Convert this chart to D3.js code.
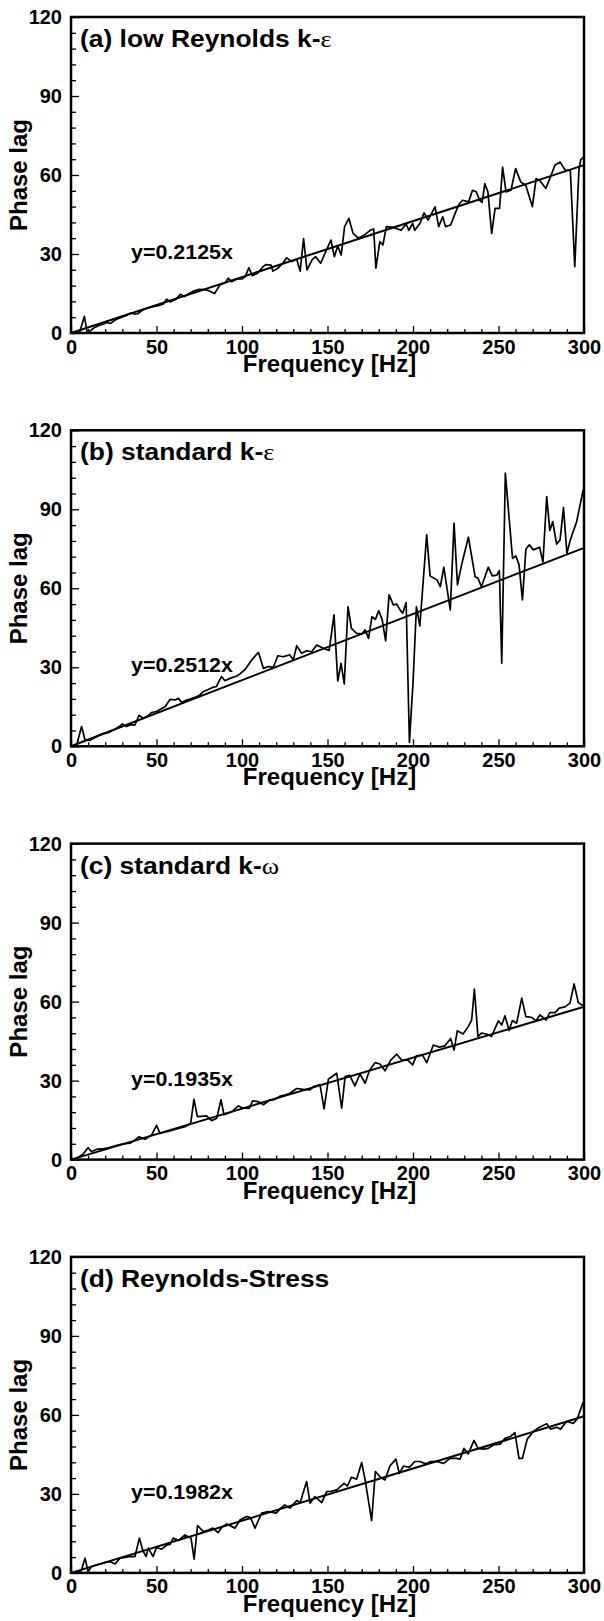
<!DOCTYPE html>
<html>
<head>
<meta charset="utf-8">
<script src="https://cdn.jsdelivr.net/npm/d3@7"></script>
<style>
  body { margin: 0; background: #fff; }
  svg text { font-family: Arial, "Liberation Sans", sans-serif; font-weight: bold; fill: #000; }
</style>
</head>
<body>
<svg id="chart" width="604" height="1621"></svg>
<script>
// Phase lag vs frequency, four turbulence models, each with its linear fit.

const panelTitles = ['(a) low Reynolds k-', '(b) standard k-', '(c) standard k-', '(d) Reynolds-Stress'];
const panelGreek = ['\u03b5', '\u03b5', '\u03c9', ''];
const fitSlopes = [0.2125, 0.2512, 0.1935, 0.1982];

const xMajorTicks = [0, 50, 100, 150, 200, 250, 300];
const xMinorTicks = [10, 20, 30, 40, 60, 70, 80, 90, 110, 120, 130, 140, 160, 170, 180, 190, 210, 220, 230, 240, 260, 270, 280, 290];
const yMajorTicks = [0, 30, 60, 90, 120];
const yMinorTicks = [6, 12, 18, 24, 36, 42, 48, 54, 66, 72, 78, 84, 96, 102, 108, 114];

// [frequency Hz, phase lag]
const lowReKeData = [
    [2, 0], [5, 0.2], [7.8, 6.3], [9.5, 0.2], [11, 0.6], [13, 1.8], [16, 2.8], [19, 3.4], [21, 4], [23, 3.6],
    [26, 5], [29, 5.8], [32, 6.6], [35, 7.6], [37, 7.2], [39, 7.3], [42, 8.8], [45, 9.5], [48, 10], [51, 10.4],
    [54, 11], [56, 12.9], [58, 11.8], [61, 12.6], [64, 14.7], [66.5, 13.8], [69, 15], [72, 16], [75, 16.6], [78, 16.5],
    [80, 16.2], [84, 15], [87, 18.2], [90, 19], [92, 20.8], [94, 19.5], [97, 20.5], [100, 20.5], [102, 21.5], [104, 24.8],
    [106, 21.8], [109, 22.6], [112, 25], [114, 26], [117, 25.8], [118, 23.5], [121, 24.6], [124, 26.5], [126, 28.6], [129, 27.2],
    [132, 28], [134, 23.5], [136, 35.8], [138, 24], [141, 27.8], [143, 29], [146, 26.5], [149, 31], [152, 35.3], [154, 29],
    [156, 33], [158, 29.6], [160, 40.4], [162.5, 43.5], [165, 37.8], [168, 36], [171, 37], [175, 39], [177, 39.5], [178.3, 24.6],
    [180.6, 34.7], [182.4, 33.4], [184.4, 40.4], [188.5, 40.1], [193, 39], [196, 41.4], [197.5, 39], [199.8, 41.6], [201, 39], [204, 41.6],
    [206.5, 45.6], [208.8, 42.9], [212.9, 47.9], [215, 40.4], [217.4, 44.1], [219, 40.4], [222, 41], [225, 46], [227, 49], [229, 50.4],
    [232.5, 49.8], [234.8, 54.2], [237, 53.6], [239, 50.4], [240.4, 49.6], [242, 56.7], [243.8, 53.6], [246, 37.8], [248, 47.3], [250.6, 47.3],
    [252.4, 63], [254.4, 53.6], [257.3, 54.2], [260, 62.4], [263, 57.4], [266, 56], [269.8, 48], [272, 58.6], [274, 58], [277.7, 54.9],
    [280, 58.6], [283, 63.7], [286, 65], [289, 61.8], [292, 61.8], [294.6, 25.2], [297, 61.8], [298, 65.6], [299.6, 66.8],
];

const stdKeData = [
    [3.3, 0.5], [6.2, 7.5], [8.2, 2.4], [11, 2.2], [13, 3], [15.5, 3.8], [18, 4.7], [22, 5.2], [25.7, 6.5], [28, 7.4],
    [30, 8.5], [32.5, 7.5], [35, 8.2], [37.4, 8.1], [39.8, 11.8], [42.3, 10.6], [45, 11.6], [47, 12.8], [50, 13.2], [52, 14],
    [55, 15], [57.9, 17.8], [60.8, 17.6], [62.8, 18.2], [64.7, 16.6], [67.6, 17.6], [70, 18], [72.5, 18.6], [75, 19.3], [77.4, 20.8],
    [80, 21.5], [83, 22.4], [85, 22.7], [88, 26.5], [90, 24.9], [93, 25.8], [97, 26.7], [99, 27.6], [101.8, 29.2], [105.7, 32.8],
    [109.6, 35.7], [112.5, 29.6], [115.4, 30.3], [118.3, 30], [121, 34.4], [124, 34], [128, 34.7], [130, 32.8], [132, 38.2], [134.9, 35.3],
    [137.8, 36.3], [140.7, 35.9], [143.7, 38.5], [147.6, 37.2], [151, 36.4], [153.8, 49.9], [156, 24.8], [157.9, 31.5], [159.8, 23.7], [162, 53],
    [164, 44.8], [167, 42.9], [170, 42.7], [172, 44.2], [174, 41], [176, 49.2], [178, 48.2], [180, 51.5], [182, 48], [184, 40],
    [186, 57.5], [188.5, 53.7], [190.5, 54], [192.4, 51.8], [194, 50.5], [196, 54.6], [197.9, 1.5], [200, 24], [202, 53], [204, 45.7],
    [208, 80.3], [210, 64.7], [214, 63.2], [216, 60.6], [218, 68], [221.8, 51.8], [224, 84.7], [226, 61.3], [228.4, 68.9], [232.4, 79.4],
    [236.3, 64.4], [238, 63.8], [240, 60.6], [244, 68], [246.4, 64.7], [249, 65], [250.5, 66.7], [251.9, 31.5], [254, 103.7], [258.2, 71.4],
    [260.2, 72.3], [262, 68.9], [264, 55.6], [266, 74.8], [268, 76.5], [270.4, 74.6], [274, 75.6], [276, 70], [278.2, 94.8], [280, 82],
    [281.7, 85.3], [284, 76.8], [286, 78.4], [288, 90.6], [290, 73.3], [292, 78.4], [295.7, 85.3], [299.6, 97.6],
];

const stdKwData = [
    [3.3, 0.5], [7, 2], [10, 4.5], [12, 3], [15, 3.9], [19, 4.2], [22, 4.5], [24.8, 5], [27.5, 5.5], [30.6, 6],
    [34.5, 6.2], [37, 7.2], [39.8, 8.7], [43.3, 7.7], [47.2, 9.4], [50, 13], [52, 10], [56, 10.6], [59.8, 11.3], [63.4, 11.9],
    [66.7, 12.5], [70, 13.8], [71.9, 22.9], [73.9, 16.3], [79.3, 16.6], [82.3, 14.8], [85.2, 15.7], [87.7, 22.7], [89.5, 17], [94, 18.2],
    [97.9, 20.4], [100.4, 19.5], [104.3, 19.5], [106.2, 22.3], [109.6, 22], [112.5, 20.8], [116.4, 22.7], [119, 22.8], [122, 24], [125, 24.5],
    [128, 25.2], [132, 27], [135.9, 26.7], [139.8, 26.5], [141.7, 27.7], [145.6, 28.5], [148, 19.3], [150.5, 30.5], [155.4, 32.8], [158.3, 19.5],
    [160.3, 31.5], [163, 32], [166, 28], [169, 32.5], [172, 29], [174.5, 33.8], [177.8, 36.8], [180.7, 36.3], [183.6, 33.7], [187, 37.8],
    [190.4, 40], [193.4, 37.8], [197, 37.8], [199.8, 36], [202, 39.4], [205.6, 39.7], [208, 36.8], [211.9, 43.5], [215.4, 42.7], [218.7, 43.2],
    [222, 46], [224, 41.6], [225.9, 48.9], [229.3, 47.7], [232.3, 50.5], [234.3, 53], [235.9, 64.7], [238, 46.7], [240, 48], [243, 47.7],
    [245.9, 46.7], [249.9, 52.7], [251.9, 51.1], [253.8, 54.6], [256.2, 49], [258.1, 52.8], [260.6, 51.8], [263.6, 61.3], [266, 54.3], [269.4, 54],
    [272, 52.7], [274.3, 55], [277.8, 53], [280, 55.8], [283, 55.8], [285.6, 57.5], [288.9, 58], [291.8, 59.4], [294.2, 66.7], [296.7, 59.6],
    [299.6, 58.4],
];

const rsmData = [
    [3.3, 0.5], [6, 0.8], [8.2, 5.6], [10, 0.5], [12, 2.4], [14.5, 3], [17, 3.4], [20, 4], [22.8, 4.3], [25.7, 3.4],
    [28.7, 5.6], [32.5, 6], [35, 6.3], [37.4, 6.2], [40, 13.2], [42, 8.5], [43.9, 6.2], [45.2, 9.4], [48, 6.2], [50, 9.7],
    [53, 9], [56, 10.6], [58, 10.8], [59.8, 13.2], [62.8, 12.3], [66.7, 14.4], [70.2, 13.2], [72, 5.2], [74, 18], [77.4, 15.7],
    [80.3, 16.3], [83, 17], [86, 15.3], [88.5, 17.5], [91, 18.6], [95.9, 17], [98.8, 20.1], [102.7, 21.4], [105, 21], [107.6, 17],
    [111.5, 22.7], [115.4, 23.3], [120, 22.7], [122.5, 24.5], [125, 25.8], [128, 24.6], [132, 27.5], [134, 26.7], [137.8, 34.7], [139.8, 26.5],
    [142.7, 29], [146.6, 26.7], [149.5, 30.9], [152, 31], [155.4, 31.5], [159.7, 34], [161.6, 33], [164, 36.3], [167, 35.6], [170, 41.9],
    [172, 35.3], [175.8, 19.9], [178, 38.5], [181, 36.3], [183.6, 35.3], [186.5, 40.6], [190, 43.2], [192, 37.8], [194.5, 40.6], [198, 40.1],
    [201, 42.3], [204, 42.3], [207.6, 41.4], [210.3, 42.3], [213.8, 42.3], [218, 41.6], [221.6, 43.5], [225.5, 43.5], [227.5, 43.2], [229.8, 47.3],
    [232.3, 45.2], [235.7, 50.3], [238, 47.3], [241, 47], [244, 47.3], [247, 48.6], [251, 48.9], [253.8, 51.1], [257, 51.8], [259.6, 53.3],
    [262, 43.5], [264, 43.5], [266.8, 50.8], [270.4, 53.7], [273.9, 55.3], [278.2, 56.6], [280.5, 54.6], [284, 55.3], [286.3, 54.6], [289.8, 57.5],
    [293.7, 56.8], [296, 58.4], [299.6, 65],
];

const panelData = [lowReKeData, stdKeData, stdKwData, rsmData];

const panelPitch = 413.3;
const plotLeft = 71;
const plotRight = 584;
const plotTop = 17;
const plotBottom = 333;
const stretch = 1.1; // the source lettering is a bit wider than Liberation Sans

const svg = d3.select('#chart');

const x = d3.scaleLinear().domain([0, 300]).range([plotLeft, plotRight]);
const y = d3.scaleLinear().domain([0, 120]).range([plotBottom, plotTop]);

const line = d3.line()
    .x(d => x(d[0]))
    .y(d => y(d[1]));

function drawPanel(i) {
    const g = svg.append('g')
        .attr('transform', `translate(0, ${i * panelPitch})`);

    // minor ticks first, majors on top
    g.append('g')
        .attr('transform', `translate(0, ${plotBottom})`)
        .call(d3.axisBottom(x).tickValues(xMinorTicks).tickSize(-4).tickFormat(''));
    g.append('g')
        .attr('transform', `translate(${plotLeft}, 0)`)
        .call(d3.axisLeft(y).tickValues(yMinorTicks).tickSize(-5).tickFormat(''));

    g.append('g')
        .attr('class', 'x-axis')
        .attr('transform', `translate(0, ${plotBottom})`)
        .call(d3.axisBottom(x).tickValues(xMajorTicks).tickSize(-7).tickPadding(5));
    g.append('g')
        .attr('class', 'y-axis')
        .attr('transform', `translate(${plotLeft}, 0)`)
        .call(d3.axisLeft(y).tickValues(yMajorTicks).tickSize(-8).tickPadding(9));

    g.selectAll('.domain').remove();
    g.selectAll('.tick line').attr('stroke', '#000').attr('stroke-width', 1.3);
    g.selectAll('.tick text')
        .style('font-size', '20px')
        .attr('fill', '#000');
    // x labels sit a little lower in the source
    g.selectAll('.x-axis .tick text').attr('dy', '0.78em');

    // frame
    g.append('rect')
        .attr('x', plotLeft)
        .attr('y', plotTop)
        .attr('width', plotRight - plotLeft)
        .attr('height', plotBottom - plotTop)
        .attr('fill', 'none')
        .attr('stroke', '#000')
        .attr('stroke-width', 2.5);

    // linear fit
    const slope = fitSlopes[i];
    g.append('path')
        .datum([[0, 0], [300, slope * 300]])
        .attr('d', line)
        .attr('fill', 'none')
        .attr('stroke', '#000')
        .attr('stroke-width', 2);

    g.append('path')
        .datum(panelData[i])
        .attr('d', line)
        .attr('fill', 'none')
        .attr('stroke', '#000')
        .attr('stroke-width', 1.7)
        .attr('stroke-linejoin', 'round');

    g.append('text')
        .attr('transform', `translate(131, ${plotBottom - 74}) scale(${stretch}, 1)`)
        .style('font-size', '19.5px')
        .text(`y=${slope}x`);

    const title = g.append('text')
        .attr('transform', `translate(80, ${plotTop + 30}) scale(${stretch}, 1)`)
        .style('font-size', '24px')
        .text(panelTitles[i]);
    title.append('tspan')
        .style('font-family', '"Liberation Serif", "Times New Roman", serif')
        .style('font-weight', 'normal')
        .style('font-size', '24px')
        .text(panelGreek[i]);

    g.append('text')
        .attr('x', (plotLeft + plotRight) / 2 + 2)
        .attr('y', plotBottom + 39)
        .attr('text-anchor', 'middle')
        .style('font-size', '24px')
        .text('Frequency [Hz]');

    g.append('text')
        .attr('transform', `translate(27, ${(plotTop + plotBottom) / 2}) rotate(-90)`)
        .attr('text-anchor', 'middle')
        .style('font-size', '24px')
        .text('Phase lag');
}

[0, 1, 2, 3].forEach(drawPanel);
</script>
</body>
</html>
